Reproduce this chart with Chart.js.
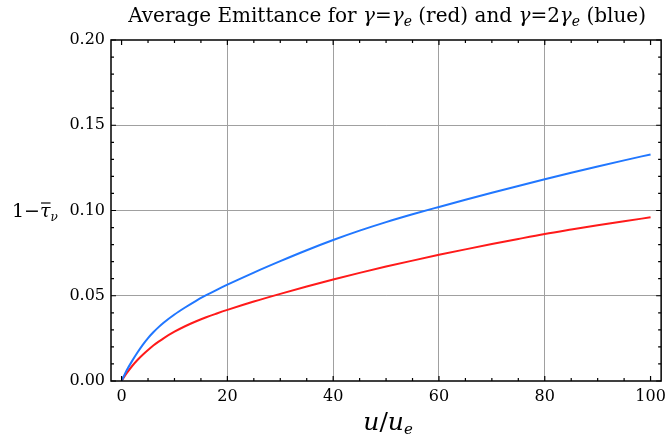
<!DOCTYPE html>
<html><head><meta charset="utf-8">
<script src="https://cdn.jsdelivr.net/npm/chart.js@4.4.0/dist/chart.umd.min.js"></script>
<style>html,body{margin:0;padding:0;background:#fff;} canvas{display:block;}</style>
</head><body>
<canvas id="c" width="672" height="439"></canvas>
<script>
const uValues   = [0, 1, 2, 3, 4, 5, 6, 7, 8, 10, 12, 14, 16, 18, 20, 25, 30, 35, 40, 45, 50, 55, 60, 65, 70, 75, 80, 85, 90, 95, 100];
const blueValues = [0, 0.0064, 0.0118, 0.0167, 0.0212, 0.0252, 0.0286, 0.0316, 0.0343, 0.0390, 0.0431, 0.0469, 0.0503, 0.0535, 0.0565, 0.0636, 0.0703, 0.0767, 0.0827, 0.0882, 0.0932, 0.0978, 0.1021, 0.1063, 0.1104, 0.1144, 0.1183, 0.1221, 0.1258, 0.1294, 0.1329];
const redValues  = [0, 0.0047, 0.0088, 0.0123, 0.0154, 0.0182, 0.0208, 0.0231, 0.0252, 0.0289, 0.0321, 0.0349, 0.0374, 0.0396, 0.0417, 0.0466, 0.0511, 0.0554, 0.0595, 0.0634, 0.0671, 0.0706, 0.0740, 0.0772, 0.0803, 0.0833, 0.0862, 0.0888, 0.0913, 0.0937, 0.0960];
const xTickValues = [0, 20, 40, 60, 80, 100];
const yTickValues = [0, 0.05, 0.10, 0.15, 0.20];
const xMinorTicks = [0,5,10,15,20,25,30,35,40,45,50,55,60,65,70,75,80,85,90,95,100];
const yMinorTicks = [0,0.01,0.02,0.03,0.04,0.05,0.06,0.07,0.08,0.09,0.10,0.11,0.12,0.13,0.14,0.15,0.16,0.17,0.18,0.19,0.20];

const SERIF = '"DejaVu Serif", serif';

function drawRuns(ctx, runs, x, y, align) {
  let total = 0;
  runs.forEach(r => { ctx.font = r.font; r.w = ctx.measureText(r.t).width; total += r.w; });
  let cx = align === 'center' ? x - total / 2 : x;
  runs.forEach(r => { ctx.font = r.font; ctx.fillText(r.t, cx, y + (r.dy || 0)); r.x = cx; cx += r.w; });
  return runs;
}

const decor = {
  id: 'decor',
  afterDatasetsDraw(chart) {
    const ctx = chart.ctx, a = chart.chartArea;
    const xs = chart.scales.x, ys = chart.scales.y;
    ctx.save();
    ctx.strokeStyle = '#000';
    ctx.lineWidth = 1.5;
    ctx.strokeRect(a.left, a.top, a.right - a.left, a.bottom - a.top);
    ctx.lineWidth = 1.2;
    ctx.beginPath();
    xMinorTicks.forEach(v => {
      const px = xs.getPixelForValue(v);
      const len = xTickValues.includes(v) ? 5 : 3;
      ctx.moveTo(px, a.bottom); ctx.lineTo(px, a.bottom - len);
      ctx.moveTo(px, a.top); ctx.lineTo(px, a.top + len);
    });
    yMinorTicks.forEach(v => {
      const py = ys.getPixelForValue(v);
      const major = yTickValues.some(t => Math.abs(t - v) < 1e-9);
      const len = major ? 5 : 3;
      ctx.moveTo(a.left, py); ctx.lineTo(a.left + len, py);
      ctx.moveTo(a.right, py); ctx.lineTo(a.right - len, py);
    });
    ctx.stroke();

    ctx.fillStyle = '#000';
    ctx.textBaseline = 'alphabetic';
    ctx.textAlign = 'left';
    // Title
    const fR = '20px ' + SERIF, fI = 'italic 20px ' + SERIF, fS = 'italic 14px ' + SERIF;
    drawRuns(ctx, [
      {t: 'Average Emittance for ', font: fR},
      {t: 'γ', font: fI}, {t: '=', font: fR}, {t: 'γ', font: fI}, {t: 'e', font: fS, dy: 4},
      {t: ' (red) and ', font: fR},
      {t: 'γ', font: fI}, {t: '=2', font: fR}, {t: 'γ', font: fI}, {t: 'e', font: fS, dy: 4},
      {t: ' (blue)', font: fR}
    ], (a.left + a.right) / 2 + 1, 22, 'center');

    // Y label
    const yr = drawRuns(ctx, [
      {t: '1', font: '19px ' + SERIF},
      {t: '\u2212', font: '19px ' + SERIF},
      {t: 'τ', font: 'italic 19px ' + SERIF},
      {t: 'ν', font: 'italic 12px ' + SERIF, dy: 4}
    ], 12, 217, 'left');
    const tau = yr[2];
    ctx.lineWidth = 1.2;
    ctx.beginPath();
    ctx.moveTo(tau.x + 1, 203); ctx.lineTo(tau.x + tau.w, 203);
    ctx.stroke();

    // X label
    drawRuns(ctx, [
      {t: 'u', font: 'italic 25px ' + SERIF},
      {t: '/', font: '25px ' + SERIF},
      {t: 'u', font: 'italic 25px ' + SERIF},
      {t: 'e', font: 'italic 15px ' + SERIF, dy: 4}
    ], (a.left + a.right) / 2 + 2, 430, 'center');
    ctx.restore();
  }
};

new Chart(document.getElementById('c'), {
  type: 'line',
  data: {
    datasets: [
      { label: 'γ=2γe', data: uValues.map((u, i) => ({x: u, y: blueValues[i]})), borderColor: '#2177ff', borderWidth: 2, pointRadius: 0, cubicInterpolationMode: 'monotone', fill: false },
      { label: 'γ=γe', data: uValues.map((u, i) => ({x: u, y: redValues[i]})), borderColor: '#ff1a1a', borderWidth: 2, pointRadius: 0, cubicInterpolationMode: 'monotone', fill: false }
    ]
  },
  options: {
    responsive: false,
    animation: false,
    devicePixelRatio: 1,
    layout: { padding: { left: 0, right: 9, top: 40, bottom: 0 } },
    plugins: { legend: { display: false }, title: { display: false }, tooltip: { enabled: false } },
    scales: {
      x: {
        type: 'linear', min: -2, max: 102,
        afterBuildTicks: s => { s.ticks = xTickValues.map(v => ({value: v})); },
        afterFit: s => { s.height = 58; },
        grid: { drawTicks: false, color: c => (c.tick && (c.tick.value === 0 || c.tick.value === 100)) ? 'rgba(0,0,0,0)' : '#a0a0a0', lineWidth: 1 },
        border: { display: false },
        ticks: { color: '#000', font: { family: 'DejaVu Serif', size: 16 }, padding: 6, maxRotation: 0, callback: v => String(v) }
      },
      y: {
        type: 'linear', min: 0, max: 0.2,
        afterBuildTicks: s => { s.ticks = yTickValues.map(v => ({value: v})); },
        afterFit: s => { s.width = 111; },
        grid: { drawTicks: false, color: c => (c.tick && (c.tick.value <= 1e-9 || c.tick.value >= 0.2 - 1e-9)) ? 'rgba(0,0,0,0)' : '#a0a0a0', lineWidth: 1 },
        border: { display: false },
        ticks: { color: '#000', font: { family: 'DejaVu Serif', size: 16 }, padding: 6, callback: v => v.toFixed(2) }
      }
    }
  },
  plugins: [decor]
});
</script>
</body></html>
